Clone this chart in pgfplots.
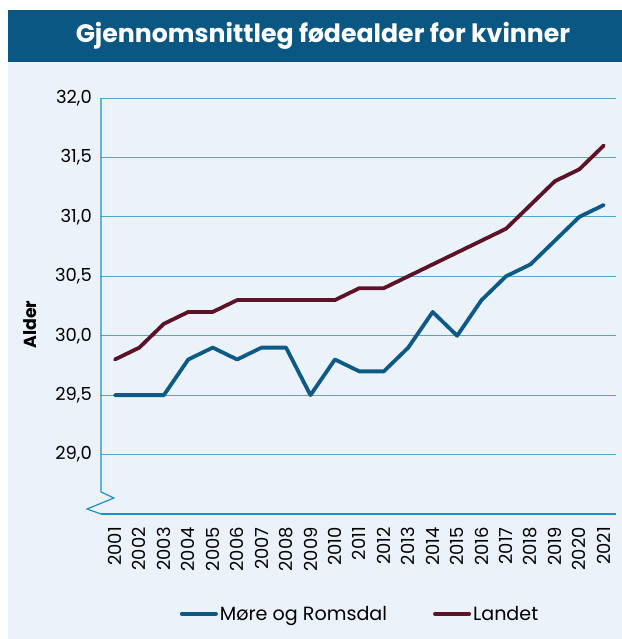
\documentclass[border=0pt]{standalone}
\usepackage{fontspec}
\setmainfont{Poppins}
\usepackage{pgfplots}
\pgfplotsset{compat=1.18}
\definecolor{titleblue}{HTML}{0B5784}
\definecolor{bgblue}{HTML}{EBF2FA}
\definecolor{mblue}{HTML}{0E5A86}
\definecolor{landet}{HTML}{5C1328}
\definecolor{gridblue}{HTML}{4AA9D8}
\definecolor{axisblue}{HTML}{1B90C9}

\begin{document}
\begin{tikzpicture}
\useasboundingbox (0,0) rectangle (622bp,-639bp);
\fill[white] (0,0) rectangle (622bp,-639bp);
\fill[bgblue] (8bp,-62bp) rectangle (622bp,-639bp);
\fill[titleblue] (8bp,-10bp) rectangle (622bp,-62bp);
\node[white, font=\bfseries\fontsize{25.3}{30}\selectfont] at (323bp,-36bp) {Gjennomsnittleg fødealder for kvinner};

\begin{axis}[
    at={(101bp,-514bp)}, anchor=south west,
    scale only axis, width=515bp, height=416bp,
    xmin=2000.43, xmax=2021.5,
    ymin=28.5, ymax=32,
    clip=false,
    axis lines*=left,
    y axis line style={opacity=0},
    x axis line style={axisblue, line width=1.3bp},
    major tick length=0pt,
    xtick={2001,...,2021},
    ytick={29,29.5,...,32},
    ymajorgrids,
    grid style={gridblue, line width=1bp},
    /pgf/number format/assume math mode=true,
    font=\fontsize{18}{21}\selectfont,
    xticklabel style={rotate=90, anchor=east, inner sep=0pt, /pgf/number format/1000 sep={}},
    xticklabel shift=13bp,
    yticklabel style={inner sep=0pt, /pgf/number format/.cd, fixed, fixed zerofill, precision=1, use comma},
    yticklabel shift=9bp,
    ylabel={\bfseries Alder},
    ylabel style={at={(rel axis cs:-0.138,0.455)}, anchor=center, font=\fontsize{17.5}{20}\selectfont},
    legend columns=2,
    legend style={at={(0.503,-0.24)}, anchor=center, draw=none, fill=none,
        font=\fontsize{19.2}{22}\selectfont,
        /tikz/every even column/.append style={column sep=44bp}},
    legend image code/.code={\draw[#1, line width=4bp, line cap=round] (0bp,0bp) -- (34bp,0bp);},
]
\addplot[mblue, line width=3.8bp, line join=round, line cap=round] coordinates {
(2001,29.5) (2002,29.5) (2003,29.5) (2004,29.8) (2005,29.9) (2006,29.8) (2007,29.9)
(2008,29.9) (2009,29.5) (2010,29.8) (2011,29.7) (2012,29.7) (2013,29.9) (2014,30.2)
(2015,30.0) (2016,30.3) (2017,30.5) (2018,30.6) (2019,30.8) (2020,31.0) (2021,31.1)};
\addlegendentry{Møre og Romsdal}
\addplot[landet, line width=3.8bp, line join=round, line cap=round] coordinates {
(2001,29.8) (2002,29.9) (2003,30.1) (2004,30.2) (2005,30.2) (2006,30.3) (2007,30.3)
(2008,30.3) (2009,30.3) (2010,30.3) (2011,30.4) (2012,30.4) (2013,30.5) (2014,30.6)
(2015,30.7) (2016,30.8) (2017,30.9) (2018,31.1) (2019,31.3) (2020,31.4) (2021,31.6)};
\addlegendentry{Landet}
% y axis with break mark
\draw[axisblue, line width=1.2bp, line join=miter]
  (rel axis cs:0,1) -- (rel axis cs:0,0.053) -- (rel axis cs:0.025,0.0385)
  -- (rel axis cs:-0.027,0.012) -- (rel axis cs:0,0);
\end{axis}
\end{tikzpicture}
\end{document}
